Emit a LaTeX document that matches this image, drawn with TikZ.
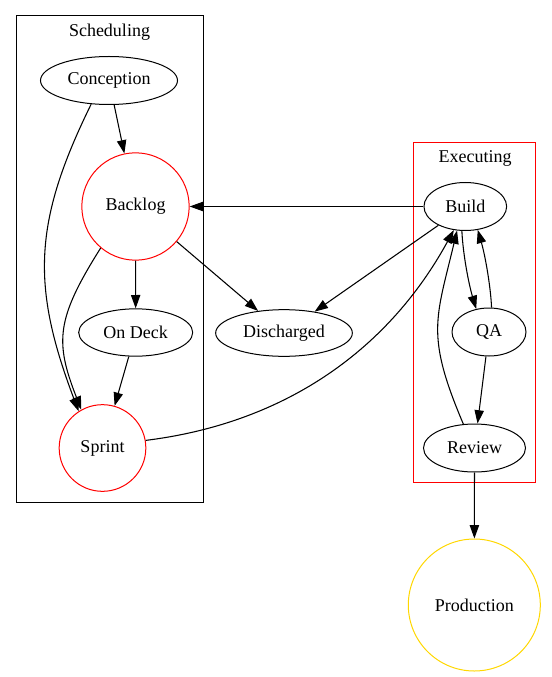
\documentclass[tikz,border=0pt]{standalone}
\usepackage{fontspec}
\setmainfont{Liberation Serif}
\usetikzlibrary{shapes.geometric,arrows.meta}
\definecolor{gold}{HTML}{FFD700}
\begin{document}
\begin{tikzpicture}[x=0.75pt,y=-0.75pt,
  every node/.style={font=\fontsize{13.5}{16}\selectfont},
  ell/.style={draw, ellipse, inner sep=0pt, line width=0.75pt},
  circ/.style={draw, circle, inner sep=0pt, line width=0.75pt},
  edge/.style={line width=0.8pt, -{Triangle[length=10pt,width=7pt]}},
  cluster/.style={draw, line width=0.75pt},
  clabel/.style={anchor=base}]
\useasboundingbox (0,0) rectangle (552,677);
% clusters
\draw[cluster] (16,16) rectangle (203,502);
\node[clabel] (schedlbl) at (109.5,36.5) {Scheduling};
\draw[cluster, draw=red] (413.5,142.5) rectangle (535.5,482);
\node[clabel] (execlbl) at (475,162.5) {Executing};
% nodes
\node[ell, minimum width=102.75pt, minimum height=36pt] (con) at (109,80.5) {Conception};
\node[circ, draw=red, minimum size=80.5pt] (bl) at (135.5,206.5) {Backlog};
\node[ell, minimum width=85.5pt, minimum height=35.5pt] (od) at (135.7,332.5) {On Deck};
\node[circ, draw=red, minimum size=65pt] (sp) at (102.5,448) {Sprint};
\node[ell, minimum width=102.5pt, minimum height=35pt] (dis) at (284,333) {Discharged};
\node[ell, minimum width=62pt, minimum height=36pt] (bu) at (465.3,206.5) {Build};
\node[ell, minimum width=55.5pt, minimum height=36pt] (qa) at (489,332) {QA};
\node[ell, minimum width=76.5pt, minimum height=36pt] (rv) at (474.5,448) {Review};
\node[circ, draw=gold, minimum size=99pt] (pr) at (474.3,605) {Production};
% edges
\draw[edge] (con) -- (bl);
\draw[edge] (con.233) .. controls (32.9,222.7) and (31.4,286.3) .. (sp.123);
\draw[edge] (bl) -- (od);
\draw[edge] (bl.230) .. controls (55.7,319.3) and (54.9,342) .. (sp.119);
\draw[edge] (od) -- (sp);
\draw[edge] (bl) -- (dis);
\draw[edge] (bu) -- (bl);
\draw[edge] (bu) -- (dis);
\draw[edge] (sp.10) .. controls (289.5,422.6) and (390.4,346.1) .. (bu.244);
\draw[edge] (bu.262) .. controls (463,255) and (469,285) .. (qa.119);
\draw[edge] (qa.84) .. controls (490.5,285) and (485,255) .. (bu.298);
\draw[edge] (qa) -- (rv);
\draw[edge] (rv.115) .. controls (425.4,334.7) and (435.9,319.3) .. (bu.251);
\draw[edge] (rv) -- (pr);
\end{tikzpicture}
\end{document}
